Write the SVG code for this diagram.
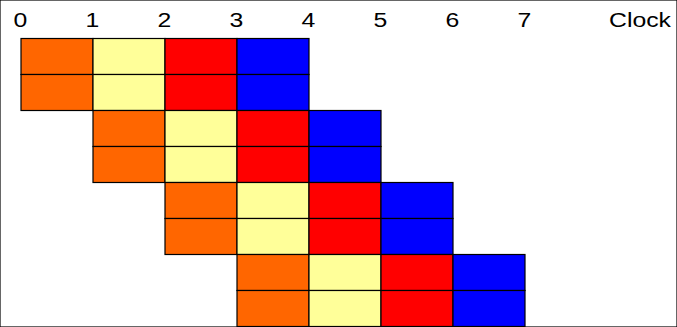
<svg xmlns="http://www.w3.org/2000/svg" width="677" height="327" viewBox="0 0 677 327">
<style>
.t{font-family:"Liberation Sans",Arial,sans-serif;font-size:21px;fill:#000}
rect{stroke:#000;stroke-width:1.2}
.o{fill:#FF6600}.y{fill:#FFFF99}.r{fill:#FF0000}.b{fill:#0000FF}
</style>
<rect width="677" height="327" fill="#fff" stroke="none"/>
<g id="labels">
<text class="t" transform="translate(20.5,27) scale(1.18,1)" text-anchor="middle">0</text>
<text class="t" transform="translate(92.5,27) scale(1.18,1)" text-anchor="middle">1</text>
<text class="t" transform="translate(164.5,27) scale(1.18,1)" text-anchor="middle">2</text>
<text class="t" transform="translate(236.5,27) scale(1.18,1)" text-anchor="middle">3</text>
<text class="t" transform="translate(308.5,27) scale(1.18,1)" text-anchor="middle">4</text>
<text class="t" transform="translate(380.5,27) scale(1.18,1)" text-anchor="middle">5</text>
<text class="t" transform="translate(452.5,27) scale(1.18,1)" text-anchor="middle">6</text>
<text class="t" transform="translate(524.5,27) scale(1.18,1)" text-anchor="middle">7</text>
<text class="t" transform="translate(609,27) scale(1.18,1)">Clock</text>
</g>
<g id="block1" transform="translate(21,38.5)">
<rect class="o" x="0" y="0" width="72" height="36"/><rect class="y" x="72" y="0" width="72" height="36"/><rect class="r" x="144" y="0" width="72" height="36"/><rect class="b" x="216" y="0" width="72" height="36"/>
<rect class="o" x="0" y="36" width="72" height="36"/><rect class="y" x="72" y="36" width="72" height="36"/><rect class="r" x="144" y="36" width="72" height="36"/><rect class="b" x="216" y="36" width="72" height="36"/>
</g>
<g id="block2" transform="translate(93,110.5)">
<rect class="o" x="0" y="0" width="72" height="36"/><rect class="y" x="72" y="0" width="72" height="36"/><rect class="r" x="144" y="0" width="72" height="36"/><rect class="b" x="216" y="0" width="72" height="36"/>
<rect class="o" x="0" y="36" width="72" height="36"/><rect class="y" x="72" y="36" width="72" height="36"/><rect class="r" x="144" y="36" width="72" height="36"/><rect class="b" x="216" y="36" width="72" height="36"/>
</g>
<g id="block3" transform="translate(165,182.5)">
<rect class="o" x="0" y="0" width="72" height="36"/><rect class="y" x="72" y="0" width="72" height="36"/><rect class="r" x="144" y="0" width="72" height="36"/><rect class="b" x="216" y="0" width="72" height="36"/>
<rect class="o" x="0" y="36" width="72" height="36"/><rect class="y" x="72" y="36" width="72" height="36"/><rect class="r" x="144" y="36" width="72" height="36"/><rect class="b" x="216" y="36" width="72" height="36"/>
</g>
<g id="block4" transform="translate(237,254.5)">
<rect class="o" x="0" y="0" width="72" height="36"/><rect class="y" x="72" y="0" width="72" height="36"/><rect class="r" x="144" y="0" width="72" height="36"/><rect class="b" x="216" y="0" width="72" height="36"/>
<rect class="o" x="0" y="36" width="72" height="36"/><rect class="y" x="72" y="36" width="72" height="36"/><rect class="r" x="144" y="36" width="72" height="36"/><rect class="b" x="216" y="36" width="72" height="36"/>
</g>
<g id="connectors"/>
</svg>
